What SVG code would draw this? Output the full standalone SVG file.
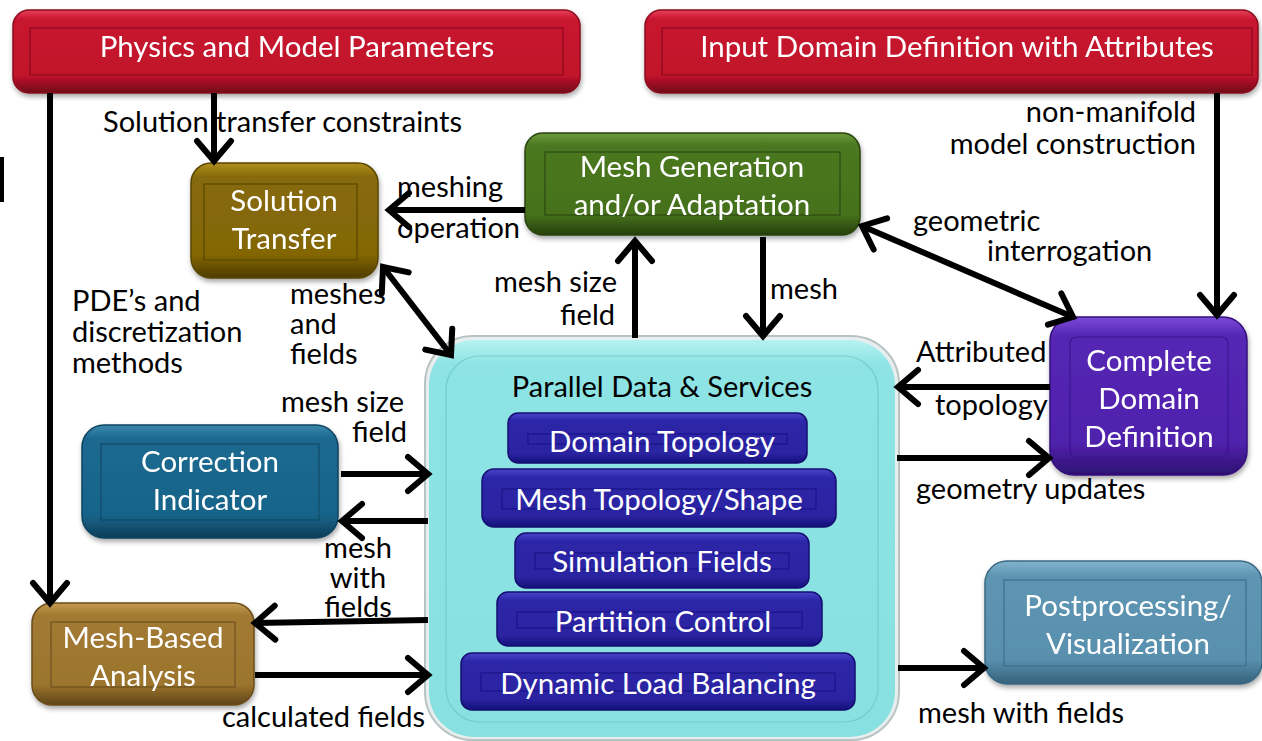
<svg xmlns="http://www.w3.org/2000/svg" width="1262" height="741" viewBox="0 0 1262 741">
<defs>
<style>
.lbl{font-family:Lato,"Open Sans","Liberation Sans",sans-serif;font-size:29px;fill:#000}
.bt{font-family:Lato,"Open Sans","Liberation Sans",sans-serif;font-size:29.5px;fill:#fff;text-anchor:middle}
.inner{fill:none;stroke-width:1.2}
.conn{fill:none;stroke:#000;stroke-width:6}
</style>
<marker id="ah" markerUnits="userSpaceOnUse" markerWidth="34" markerHeight="44" viewBox="-26 -22 34 44" refX="0" refY="0" orient="auto-start-reverse">
<path d="M-20,-17 L0,0 L-20,17" fill="none" stroke="#000" stroke-width="6" stroke-linecap="round" stroke-linejoin="miter"/>
</marker>
<linearGradient id="gRed" x1="0" y1="0" x2="0" y2="1"><stop offset="0" stop-color="#e8405a"/><stop offset="0.12" stop-color="#c8142e"/><stop offset="0.8" stop-color="#c0122b"/><stop offset="1" stop-color="#6e0a18"/></linearGradient>
<linearGradient id="gOlive" x1="0" y1="0" x2="0" y2="1"><stop offset="0" stop-color="#b08f20"/><stop offset="0.12" stop-color="#876a08"/><stop offset="0.8" stop-color="#836606"/><stop offset="1" stop-color="#4e3c00"/></linearGradient>
<linearGradient id="gGreen" x1="0" y1="0" x2="0" y2="1"><stop offset="0" stop-color="#6c9a3c"/><stop offset="0.12" stop-color="#4b7820"/><stop offset="0.8" stop-color="#46711c"/><stop offset="1" stop-color="#253f0c"/></linearGradient>
<linearGradient id="gPurple" x1="0" y1="0" x2="0" y2="1"><stop offset="0" stop-color="#7a4ad8"/><stop offset="0.12" stop-color="#5526b4"/><stop offset="0.8" stop-color="#5022ac"/><stop offset="1" stop-color="#2e1070"/></linearGradient>
<linearGradient id="gTeal" x1="0" y1="0" x2="0" y2="1"><stop offset="0" stop-color="#3d88ac"/><stop offset="0.12" stop-color="#1a6890"/><stop offset="0.8" stop-color="#196489"/><stop offset="1" stop-color="#0c3e58"/></linearGradient>
<linearGradient id="gBrown" x1="0" y1="0" x2="0" y2="1"><stop offset="0" stop-color="#c49a50"/><stop offset="0.12" stop-color="#a27a32"/><stop offset="0.8" stop-color="#9c752e"/><stop offset="1" stop-color="#5e4418"/></linearGradient>
<linearGradient id="gSteel" x1="0" y1="0" x2="0" y2="1"><stop offset="0" stop-color="#84b4cc"/><stop offset="0.12" stop-color="#5d95b3"/><stop offset="0.8" stop-color="#5990ae"/><stop offset="1" stop-color="#34627c"/></linearGradient>
<linearGradient id="gBlue" x1="0" y1="0" x2="0" y2="1"><stop offset="0" stop-color="#4a44cc"/><stop offset="0.15" stop-color="#2c26a8"/><stop offset="0.8" stop-color="#2a24a2"/><stop offset="1" stop-color="#14107a"/></linearGradient>
<linearGradient id="gCyan" x1="0" y1="0" x2="0" y2="1"><stop offset="0" stop-color="#b6f2f2"/><stop offset="0.06" stop-color="#8ee4e4"/><stop offset="1" stop-color="#88e0e0"/></linearGradient>
<filter id="sh" x="-10%" y="-10%" width="120%" height="130%"><feDropShadow dx="1" dy="3" stdDeviation="2.5" flood-color="#000" flood-opacity="0.35"/></filter>
</defs>

<rect x="0" y="157" width="4" height="45" fill="#000"/>

<g id="physics" filter="url(#sh)">
<rect x="13" y="10" width="567" height="83" rx="16" fill="url(#gRed)" stroke="#8a0a1e" stroke-width="1.5"/>
<rect class="inner" x="30" y="28" width="533" height="47" stroke="#8e0c20"/>
<text class="bt" x="297" y="57" font-size="31">Physics and Model Parameters</text>
</g>

<g id="input-domain" filter="url(#sh)">
<rect x="645" y="10" width="613" height="83" rx="16" fill="url(#gRed)" stroke="#8a0a1e" stroke-width="1.5"/>
<rect class="inner" x="662" y="28" width="590" height="47" stroke="#8e0c20"/>
<text class="bt" x="957" y="57" font-size="31">Input Domain Definition with Attributes</text>
</g>

<g id="solution-transfer" filter="url(#sh)">
<rect x="191" y="163" width="187" height="115" rx="20" fill="url(#gOlive)" stroke="#5a4600" stroke-width="1.5"/>
<rect class="inner" x="204" y="184" width="153" height="76" stroke="#5a4600"/>
<text class="bt" x="284" y="211">Solution</text>
<text class="bt" x="284" y="249">Transfer</text>
</g>

<g id="mesh-generation" filter="url(#sh)">
<rect x="525" y="133" width="335" height="102" rx="18" fill="url(#gGreen)" stroke="#2a440e" stroke-width="1.5"/>
<rect class="inner" x="545" y="152" width="295" height="63" stroke="#2d4a10"/>
<text class="bt" x="692" y="177">Mesh Generation</text>
<text class="bt" x="692" y="215">and/or Adaptation</text>
</g>

<g id="complete-domain" filter="url(#sh)">
<rect x="1050" y="317" width="197" height="158" rx="24" fill="url(#gPurple)" stroke="#34107c" stroke-width="1.5"/>
<rect class="inner" x="1070" y="337" width="158" height="120" rx="6" stroke="#3a1490"/>
<text class="bt" x="1149" y="371">Complete</text>
<text class="bt" x="1149" y="409">Domain</text>
<text class="bt" x="1149" y="447">Definition</text>
</g>

<g id="correction-indicator" filter="url(#sh)">
<rect x="82" y="425" width="256" height="113" rx="22" fill="url(#gTeal)" stroke="#0e4460" stroke-width="1.5"/>
<rect class="inner" x="101" y="444" width="218" height="76" stroke="#0e4a68"/>
<text class="bt" x="210" y="472">Correction</text>
<text class="bt" x="210" y="510">Indicator</text>
</g>

<g id="mesh-based-analysis" filter="url(#sh)">
<rect x="32" y="603" width="222" height="102" rx="20" fill="url(#gBrown)" stroke="#6a4c1a" stroke-width="1.5"/>
<rect class="inner" x="51" y="622" width="184" height="65" stroke="#6e5020"/>
<text class="bt" x="143" y="648">Mesh-Based</text>
<text class="bt" x="143" y="686">Analysis</text>
</g>

<g id="postprocessing" filter="url(#sh)">
<rect x="985" y="561" width="277" height="123" rx="22" fill="url(#gSteel)" stroke="#3a6884" stroke-width="1.5"/>
<rect class="inner" x="1004" y="580" width="242" height="86" stroke="#3e6e8a"/>
<text class="bt" x="1128" y="616">Postprocessing/</text>
<text class="bt" x="1128" y="654">Visualization</text>
</g>

<g id="parallel-data">
<rect x="425" y="336" width="474" height="404" rx="48" fill="#e8eeee" stroke="#b8c4c4" stroke-width="2"/>
<rect x="429" y="340" width="466" height="397" rx="45" fill="url(#gCyan)"/>
<rect x="446" y="356" width="432" height="366" rx="34" fill="none" stroke="#76cccc" stroke-width="1.2"/>
<text class="lbl" x="662" y="397" text-anchor="middle">Parallel Data &amp; Services</text>
<g id="domain-topology">
<rect x="508" y="413" width="299" height="50" rx="10" fill="url(#gBlue)" stroke="#140e70" stroke-width="1.5"/>
<rect class="inner" x="528" y="434" width="259" height="10" stroke="#1a148a"/>
<text class="bt" x="662" y="452">Domain Topology</text>
</g>
<g id="mesh-topology">
<rect x="482" y="469" width="354" height="58" rx="12" fill="url(#gBlue)" stroke="#140e70" stroke-width="1.5"/>
<rect class="inner" x="502" y="489" width="314" height="20" stroke="#1a148a"/>
<text class="bt" x="659" y="510">Mesh Topology/Shape</text>
</g>
<g id="simulation-fields">
<rect x="515" y="533" width="294" height="55" rx="11" fill="url(#gBlue)" stroke="#140e70" stroke-width="1.5"/>
<rect class="inner" x="535" y="553" width="254" height="16" stroke="#1a148a"/>
<text class="bt" x="662" y="572">Simulation Fields</text>
</g>
<g id="partition-control">
<rect x="497" y="592" width="325" height="54" rx="11" fill="url(#gBlue)" stroke="#140e70" stroke-width="1.5"/>
<rect class="inner" x="517" y="612" width="285" height="16" stroke="#1a148a"/>
<text class="bt" x="663" y="632">Partition Control</text>
</g>
<g id="dynamic-load">
<rect x="461" y="653" width="394" height="57" rx="11" fill="url(#gBlue)" stroke="#140e70" stroke-width="1.5"/>
<rect class="inner" x="481" y="673" width="354" height="18" stroke="#1a148a"/>
<text class="bt" x="658" y="694">Dynamic Load Balancing</text>
</g>
</g>

<g id="connectors">
<path class="conn" d="M50,93 V603" marker-end="url(#ah)"/>
<path class="conn" d="M214,93 V161" marker-end="url(#ah)"/>
<path class="conn" d="M525,210 H389" marker-end="url(#ah)"/>
<path class="conn" d="M383,267 L451,355" marker-start="url(#ah)" marker-end="url(#ah)"/>
<path class="conn" d="M635,338 V241" marker-end="url(#ah)"/>
<path class="conn" d="M763,237 V336" marker-end="url(#ah)"/>
<path class="conn" d="M862,226 L1073,317" marker-start="url(#ah)" marker-end="url(#ah)"/>
<path class="conn" d="M1217,93 V315" marker-end="url(#ah)"/>
<path class="conn" d="M1050,387 H898" marker-end="url(#ah)"/>
<path class="conn" d="M897,458 H1049" marker-end="url(#ah)"/>
<path class="conn" d="M341,474 H428" marker-end="url(#ah)"/>
<path class="conn" d="M428,521 H342" marker-end="url(#ah)"/>
<path class="conn" d="M428,620 L255,623" marker-end="url(#ah)"/>
<path class="conn" d="M255,675 H428" marker-end="url(#ah)"/>
<path class="conn" d="M898,668 H984" marker-end="url(#ah)"/>
</g>

<g id="labels">
<text class="lbl" x="103" y="132">Solution transfer constraints</text>
<text class="lbl" x="397" y="197">meshing</text>
<text class="lbl" x="397" y="238">operation</text>
<text class="lbl" x="290" y="304">meshes</text>
<text class="lbl" x="290" y="334">and</text>
<text class="lbl" x="290" y="364">fields</text>
<text class="lbl" x="72" y="311">PDE’s and</text>
<text class="lbl" x="72" y="342">discretization</text>
<text class="lbl" x="72" y="373">methods</text>
<text class="lbl" x="617" y="292" text-anchor="end">mesh size</text>
<text class="lbl" x="615" y="325" text-anchor="end">field</text>
<text class="lbl" x="770" y="299">mesh</text>
<text class="lbl" x="913" y="231">geometric</text>
<text class="lbl" x="987" y="261">interrogation</text>
<text class="lbl" x="1196" y="122" text-anchor="end">non-manifold</text>
<text class="lbl" x="1196" y="154" text-anchor="end">model construction</text>
<text class="lbl" x="916" y="362">Attributed</text>
<text class="lbl" x="935" y="415">topology</text>
<text class="lbl" x="916" y="499">geometry updates</text>
<text class="lbl" x="404" y="412" text-anchor="end">mesh size</text>
<text class="lbl" x="407" y="442" text-anchor="end">field</text>
<text class="lbl" x="358" y="558" text-anchor="middle">mesh</text>
<text class="lbl" x="358" y="588" text-anchor="middle">with</text>
<text class="lbl" x="358" y="617" text-anchor="middle">fields</text>
<text class="lbl" x="222" y="727">calculated fields</text>
<text class="lbl" x="918" y="723">mesh with fields</text>
</g>
</svg>
